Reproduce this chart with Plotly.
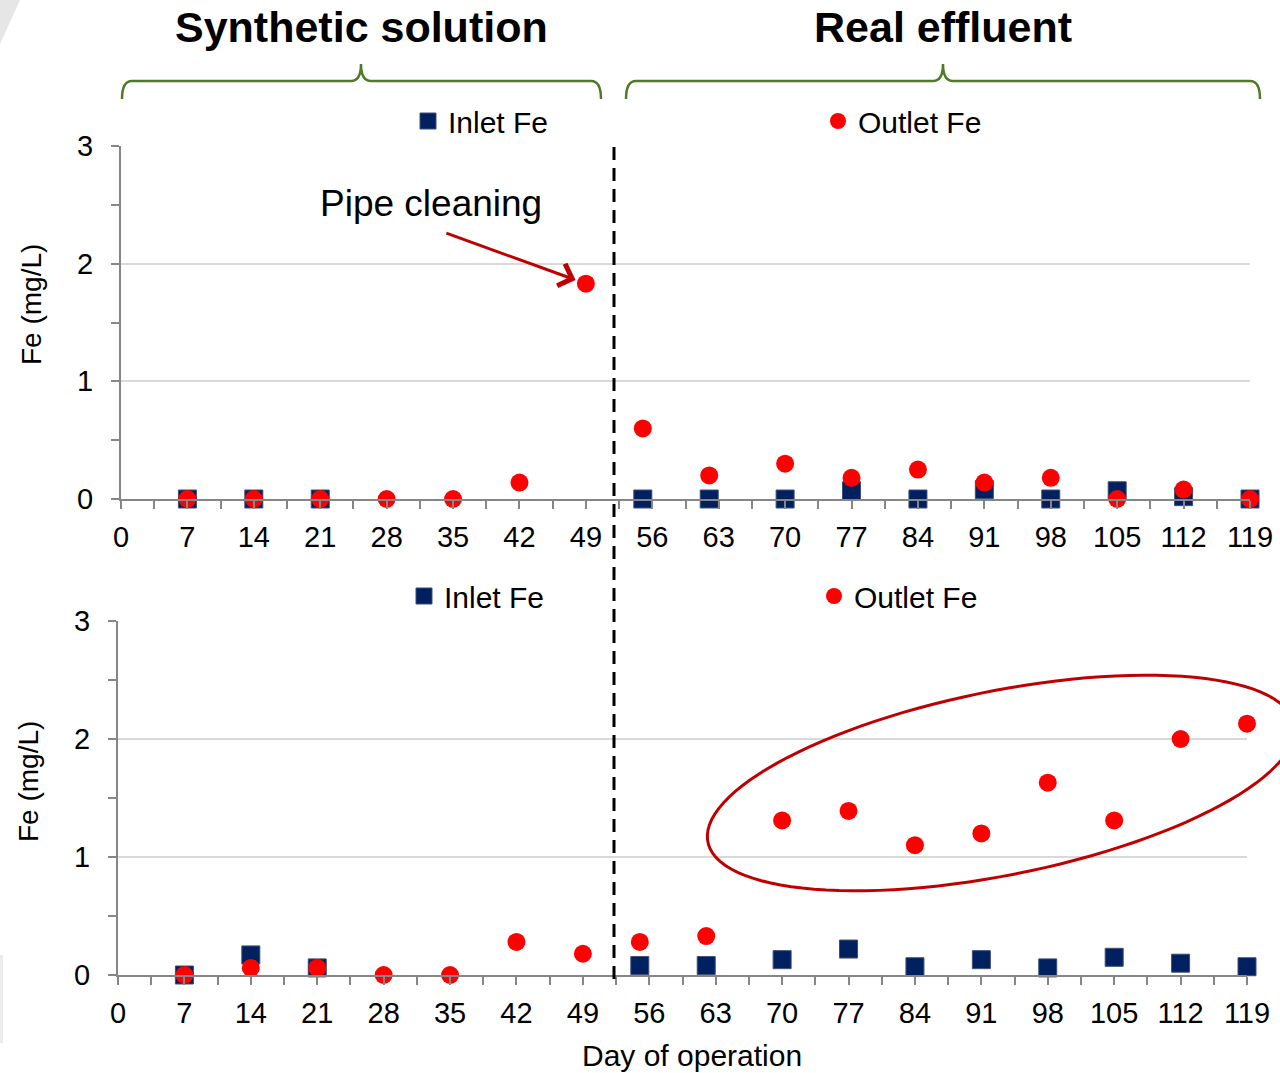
import numpy as np
import plotly.graph_objects as go

# ---- data -------------------------------------------------------------
days = [7, 14, 21, 28, 35, 42, 49, 55, 62, 70, 77, 84, 91, 98, 105, 112, 119]

inlet_top = [0.0, 0.0, 0.0, None, None, None, None, 0.0, 0.0, 0.0, 0.07, 0.0, 0.08, 0.0, 0.07, 0.02, 0.0]
outlet_top = [0.0, 0.0, 0.0, 0.0, 0.0, 0.14, 1.83, 0.60, 0.20, 0.30, 0.18, 0.25, 0.14, 0.18, 0.0, 0.08, 0.0]

inlet_bottom = [0.0, 0.17, 0.06, None, None, None, None, 0.08, 0.08, 0.13, 0.22, 0.07, 0.13, 0.06, 0.15, 0.10, 0.07]
outlet_bottom = [0.0, 0.06, 0.06, 0.0, 0.0, 0.28, 0.18, 0.28, 0.33, 1.31, 1.39, 1.10, 1.20, 1.63, 1.31, 2.00, 2.13]

tick_days = list(range(0, 120, 7))
tick_text = [str(d) for d in tick_days]

# ---- styling ----------------------------------------------------------
W, H = 1280, 1073
FONT = "Liberation Sans"
NAVY = "#002060"
RED = "#ff0000"
DARKRED = "#c00000"
GREEN = "#4f7a28"
AXIS = "#868686"
GRID = "#d9d9d9"


def px(x):
    return x / W


def py(y):
    return 1 - y / H


def path_from(points, close=False):
    s = "M " + " L ".join(f"{px(x):.5f},{py(y):.5f}" for x, y in points)
    return s + (" Z" if close else "")


def bracket(x0, x1, xm, ybar, yend, ytip, r=10):
    """Curly brace opening downward, in pixel coordinates."""
    pts = [
        (x0, yend), ("Q", x0, ybar, x0 + r, ybar), (xm - r, ybar),
        ("Q", xm, ybar, xm, ytip), ("Q", xm, ybar, xm + r, ybar),
        (x1 - r, ybar), ("Q", x1, ybar, x1, yend),
    ]
    s = f"M {px(pts[0][0]):.5f},{py(pts[0][1]):.5f}"
    for p in pts[1:]:
        if p[0] == "Q":
            s += f" Q {px(p[1]):.5f},{py(p[2]):.5f} {px(p[3]):.5f},{py(p[4]):.5f}"
        else:
            s += f" L {px(p[0]):.5f},{py(p[1]):.5f}"
    return s


fig = go.Figure()

sq = dict(symbol="square", size=18, color=NAVY, line=dict(color="#3c4f78", width=1))
ci = dict(symbol="circle", size=18, color=RED, line=dict(width=0))

fig.add_trace(go.Scatter(x=days, y=inlet_top, mode="markers", name="Inlet Fe", marker=sq,
                         xaxis="x", yaxis="y", legend="legend", cliponaxis=False))
fig.add_trace(go.Scatter(x=days, y=outlet_top, mode="markers", name="Outlet Fe", marker=ci,
                         xaxis="x", yaxis="y", legend="legend", cliponaxis=False))
fig.add_trace(go.Scatter(x=days, y=inlet_bottom, mode="markers", name="Inlet Fe", marker=sq,
                         xaxis="x2", yaxis="y2", legend="legend2", cliponaxis=False))
fig.add_trace(go.Scatter(x=days, y=outlet_bottom, mode="markers", name="Outlet Fe", marker=ci,
                         xaxis="x2", yaxis="y2", legend="legend2", cliponaxis=False))

xcommon = dict(
    range=[0, 119], tickmode="array", tickvals=tick_days, ticktext=tick_text,
    showline=True, linecolor=AXIS, linewidth=2, ticks="outside", ticklen=8,
    tickcolor=AXIS, tickwidth=1.5, showgrid=False, zeroline=False, automargin=False,
    ticklabelstandoff=3,
    tickfont=dict(family=FONT, size=29, color="black"),
    minor=dict(tick0=0, dtick=3.5, ticks="outside", ticklen=8, tickcolor=AXIS, tickwidth=1.5),
)
ycommon = dict(
    range=[0, 3], dtick=1, tick0=0, showline=True, linecolor=AXIS, linewidth=2,
    ticks="outside", ticklen=8, tickcolor=AXIS, tickwidth=1.5, showgrid=True,
    gridcolor=GRID, gridwidth=1.5, zeroline=False, ticklabelstandoff=12, automargin=False,
    tickfont=dict(family=FONT, size=29, color="black"),
    minor=dict(dtick=0.5, ticks="outside", ticklen=8, tickcolor=AXIS, tickwidth=1.5),
)

legend_common = dict(orientation="h", xanchor="left", yanchor="middle",
                     entrywidth=365, entrywidthmode="pixels", itemwidth=30,
                     font=dict(family=FONT, size=30), bgcolor="rgba(0,0,0,0)")

fig.update_layout(
    width=W, height=H, margin=dict(l=0, r=0, t=0, b=0, autoexpand=False),
    paper_bgcolor="white", plot_bgcolor="white",
    font=dict(family=FONT, color="black"),
    xaxis=dict(domain=[px(121), px(1250)], anchor="y", **xcommon),
    yaxis=dict(domain=[py(499), py(146)], anchor="x", **ycommon),
    xaxis2=dict(domain=[px(118), px(1247)], anchor="y2", **xcommon),
    yaxis2=dict(domain=[py(975), py(621)], anchor="x2", **ycommon),
    legend=dict(x=px(408), y=py(121), **legend_common),
    legend2=dict(x=px(404), y=py(596), **legend_common),
)

# ---- annotations ------------------------------------------------------
ann = [
    dict(text="<b>Synthetic solution</b>", x=px(361), y=py(27), font=dict(size=43)),
    dict(text="<b>Real effluent</b>", x=px(943), y=py(27), font=dict(size=43)),
    dict(text="Pipe cleaning", x=px(431), y=py(203), font=dict(size=37)),
    dict(text="Fe (mg/L)", x=px(32), y=py(305), textangle=-90, font=dict(size=28)),
    dict(text="Fe (mg/L)", x=px(28), y=py(782), textangle=-90, font=dict(size=28)),
    dict(text="Day of operation", x=px(692), y=py(1055), font=dict(size=30)),
]
for a in ann:
    fig.add_annotation(xref="paper", yref="paper", showarrow=False,
                       xanchor="center", yanchor="middle",
                       font=dict(family=FONT, color="black", size=a["font"]["size"]),
                       **{k: v for k, v in a.items() if k != "font"})

# arrow pointing at the pipe-cleaning peak
fig.add_annotation(x=days[6], y=outlet_top[6], xref="x", yref="y", text="",
                   showarrow=True, ax=-141, ay=-51, axref="pixel", ayref="pixel",
                   standoff=11, arrowcolor=DARKRED, arrowwidth=3, arrowhead=4, arrowsize=1.5)

# ---- shapes -----------------------------------------------------------
shapes = []
# phase divider
shapes.append(dict(type="line", xref="paper", yref="paper", x0=px(614), x1=px(614),
                   y0=py(147), y1=py(980), line=dict(color="black", width=3, dash="13px,8px")))
# phase braces
shapes.append(dict(type="path", xref="paper", yref="paper",
                   path=bracket(122, 601, 361, 81, 99, 64), line=dict(color=GREEN, width=2.5)))
shapes.append(dict(type="path", xref="paper", yref="paper",
                   path=bracket(626, 1260, 943, 81, 99, 64), line=dict(color=GREEN, width=2.5)))

# ellipse highlighting the rising outlet Fe in real effluent
cx, cy, a_ax, b_ax, th = 1001, 783, 299, 92, np.deg2rad(11.4)
t = np.linspace(0, 2 * np.pi, 120)
ex = cx + a_ax * np.cos(th) * np.cos(t) - b_ax * np.sin(th) * np.sin(t)
ey = cy - (a_ax * np.sin(th) * np.cos(t) + b_ax * np.cos(th) * np.sin(t))
shapes.append(dict(type="path", xref="paper", yref="paper",
                   path=path_from(list(zip(ex, ey)), close=True),
                   line=dict(color=DARKRED, width=3)))

# faint background decorations at the page edge
shapes.append(dict(type="path", xref="paper", yref="paper", layer="below",
                   path=path_from([(0, 0), (20, 0), (0, 44)], close=True),
                   fillcolor="#e6e6e6", line=dict(width=0)))
shapes.append(dict(type="rect", xref="paper", yref="paper", layer="below",
                   x0=0, x1=px(3), y0=py(1043), y1=py(955),
                   fillcolor="#ececec", line=dict(width=0)))

fig.update_layout(shapes=shapes)

fig.write_html("out.html")
